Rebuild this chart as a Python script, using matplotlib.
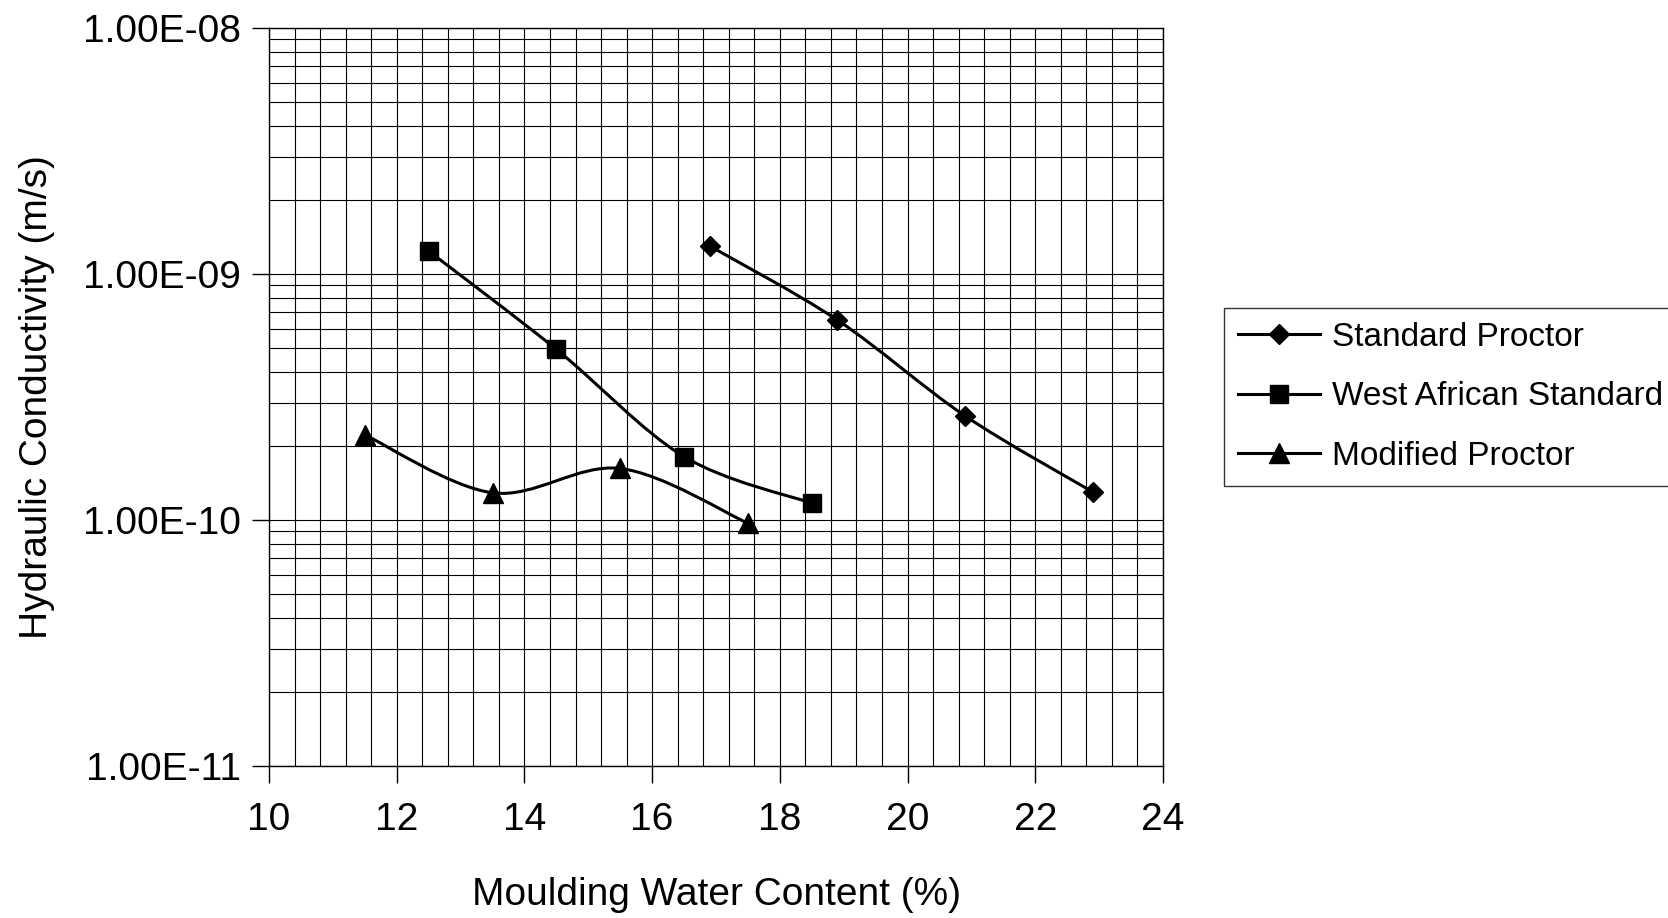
import numpy as np
import matplotlib
matplotlib.use('Agg')
import matplotlib.pyplot as plt
from matplotlib.path import Path
from matplotlib.patches import PathPatch
from matplotlib.ticker import MultipleLocator, LogLocator, FuncFormatter, NullFormatter
from matplotlib.lines import Line2D

plt.rcParams['font.family'] = ['Liberation Sans', 'DejaVu Sans']

# data
std_x = [16.9, 18.9, 20.9, 22.9]
std_k = [1.30e-9, 6.5e-10, 2.65e-10, 1.30e-10]

was_x = [12.5, 14.5, 16.5, 18.5]
was_k = [1.24e-9, 4.94e-10, 1.81e-10, 1.17e-10]

mod_x = [11.5, 13.5, 15.5, 17.5]
mod_k = [2.22e-10, 1.29e-10, 1.62e-10, 9.7e-11]

labels = ['Standard Proctor', 'West African Standard', 'Modified Proctor']
markers = ['D', 's', '^']
msizes = [10.5, 13, 14]


def smooth_path(xs, ys):
    # excel style smoothed line: catmull-rom bezier in (x, log y)
    p = np.column_stack([xs, np.log10(ys)])
    n = len(p)
    verts = [p[0]]
    codes = [Path.MOVETO]
    for i in range(n - 1):
        p0 = p[i - 1] if i > 0 else p[i]
        p1 = p[i]
        p2 = p[i + 1]
        p3 = p[i + 2] if i + 2 < n else p[i + 1]
        c1 = p1 + (p2 - p0) / 6.0
        c2 = p2 - (p3 - p1) / 6.0
        verts += [c1, c2, p2]
        codes += [Path.CURVE4] * 3
    verts = np.array(verts)
    verts[:, 1] = 10 ** verts[:, 1]
    return Path(verts, codes)


fig = plt.figure(figsize=(16.68, 9.18), dpi=100)
ax = fig.add_axes([269 / 1668, 1 - 766 / 918, (1163 - 269) / 1668, (766 - 28) / 918])

ax.set_xlim(10, 24)
ax.set_yscale('log')
ax.set_ylim(1e-11, 1e-8)

ax.xaxis.set_major_locator(MultipleLocator(2))
ax.xaxis.set_minor_locator(MultipleLocator(0.4))
ax.yaxis.set_major_locator(LogLocator(base=10))
ax.yaxis.set_minor_locator(LogLocator(base=10, subs=np.arange(2, 10)))
ax.yaxis.set_major_formatter(FuncFormatter(lambda v, pos: '{:.2E}'.format(v)))
ax.yaxis.set_minor_formatter(NullFormatter())

ax.grid(True, which='both', color='black', linewidth=0.8)
ax.set_axisbelow(True)
ax.tick_params(which='major', direction='out', length=12, width=1, labelsize=28, pad=8)
ax.tick_params(which='minor', length=0)
ax.tick_params(axis='x', pad=14)
for s in ax.spines.values():
    s.set_color('black')
    s.set_linewidth(1)

handles = []
for xs, ks, lab, m, ms in zip([std_x, was_x, mod_x], [std_k, was_k, mod_k], labels, markers, msizes):
    ax.add_patch(PathPatch(smooth_path(xs, ks), fill=False, edgecolor='black', linewidth=2.2, zorder=3))
    ax.plot(xs, ks, linestyle='none', marker=m, markersize=ms, color='black', zorder=4)
    handles.append(Line2D([], [], color='black', linewidth=2.2, marker=m, markersize=ms))

ax.set_xlabel('Moulding Water Content (%)', fontsize=28, labelpad=28)
ax.set_ylabel('Hydraulic Conductivity (m/s)', fontsize=28, labelpad=20)

leg = fig.legend(handles, labels, loc='upper left', bbox_to_anchor=(1224 / 1668, 1 - 308 / 918),
                 fontsize=24, frameon=True, fancybox=False, edgecolor='black',
                 handlelength=2.45, handletextpad=0.36, labelspacing=0.85, borderpad=0.42,
                 borderaxespad=0)
leg.get_frame().set_linewidth(1)

fig.savefig('out.png', dpi=100)
